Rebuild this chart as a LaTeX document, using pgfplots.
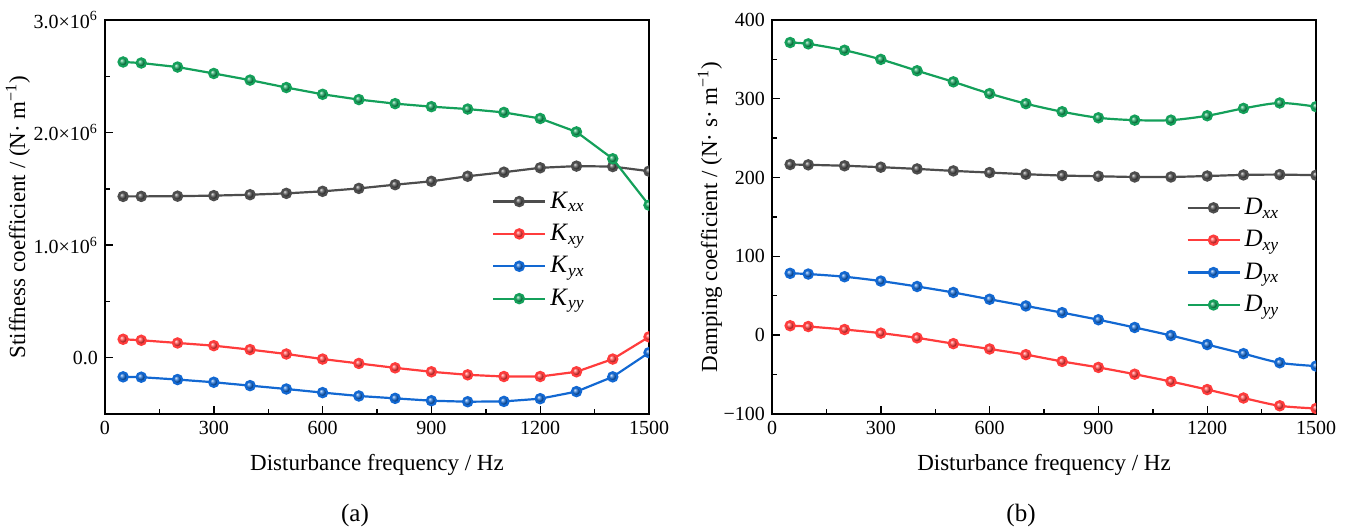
\documentclass[border=0pt]{standalone}
\usepackage{fontspec}
\setmainfont{Liberation Serif}
\usepackage{pgfplots}
\pgfplotsset{compat=1.18}
\definecolor{cG}{HTML}{4D4D4D}
\definecolor{cR}{HTML}{FF3C3C}
\definecolor{cB}{HTML}{1268D2}
\definecolor{cV}{HTML}{14A05A}
\pgfplotsset{
  common/.style={
    scale only axis, width=272pt, height=197pt,
    xmin=0, xmax=1500, xtick={0,300,...,1500}, minor x tick num=1,
    tick align=inside, xtick pos=bottom, ytick pos=left,
    axis line style={line width=0.8pt},
    major tick length=4pt, minor tick length=2.3pt,
    tick style={black, line width=0.7pt},
    /pgf/number format/assume math mode=true,
    /pgf/number format/1000 sep={},
    scaled y ticks=false,
    tick label style={font=\fontsize{10}{12}\selectfont},
    label style={font=\fontsize{11.5}{13}\selectfont},
    xlabel={Disturbance frequency / Hz},
    xlabel style={at={(axis description cs:0.5,-0.13)}, anchor=center},
    clip marker paths=true,
    legend cell align=left,
    legend style={draw=none, fill=none, anchor=north west, inner sep=0pt, row sep=2.5pt,
      font=\fontsize{12.5}{14}\selectfont},
    legend image code/.code={\draw[mark repeat=2, mark phase=2] plot coordinates {(0pt,0pt) (13pt,0pt) (26pt,0pt)};},
  },
  s/.style={color=#1, line width=1.1pt, mark=ball, mark size=2.3pt, mark options={ball color=#1}},
}
\begin{document}
\begin{tikzpicture}
\useasboundingbox (-52.5pt,-57.5pt) rectangle (621pt,207pt);
\begin{axis}[common, name=L, at={(0pt,0pt)}, anchor=south west,
  ymin=-0.5e6, ymax=3e6, ytick={0,1e6,2e6,3e6}, minor y tick num=1,
  yticklabels={0.0, 1.0×10\textsuperscript{6}, 2.0×10\textsuperscript{6}, 3.0×10\textsuperscript{6}},
  ylabel={Stiffness coefficient / (N· m\textsuperscript{−1})},
  ylabel style={at={(axis description cs:-0.16,0.5)}, anchor=center},
  legend style={at={(axis description cs:0.711,0.575)}},
]
\addplot[s=cG] coordinates {(50,1.433e6) (100,1.433e6) (200,1.435e6) (300,1.440e6) (400,1.448e6) (500,1.460e6) (600,1.478e6) (700,1.504e6) (800,1.537e6) (900,1.567e6) (1000,1.612e6) (1100,1.648e6) (1200,1.687e6) (1300,1.702e6) (1400,1.698e6) (1500,1.657e6)};
\addlegendentry{\textit{K}\textsubscript{\textit{xx}}}
\addplot[s=cR] coordinates {(50,0.164e6) (100,0.155e6) (200,0.131e6) (300,0.107e6) (400,0.072e6) (500,0.033e6) (600,-0.012e6) (700,-0.051e6) (800,-0.090e6) (900,-0.125e6) (1000,-0.152e6) (1100,-0.167e6) (1200,-0.167e6) (1300,-0.125e6) (1400,-0.012e6) (1500,0.185e6)};
\addlegendentry{\textit{K}\textsubscript{\textit{xy}}}
\addplot[s=cB] coordinates {(50,-0.170e6) (100,-0.173e6) (200,-0.194e6) (300,-0.218e6) (400,-0.248e6) (500,-0.278e6) (600,-0.310e6) (700,-0.340e6) (800,-0.361e6) (900,-0.382e6) (1000,-0.391e6) (1100,-0.388e6) (1200,-0.364e6) (1300,-0.301e6) (1400,-0.170e6) (1500,0.045e6)};
\addlegendentry{\textit{K}\textsubscript{\textit{yx}}}
\addplot[s=cV] coordinates {(50,2.627e6) (100,2.618e6) (200,2.582e6) (300,2.525e6) (400,2.466e6) (500,2.400e6) (600,2.340e6) (700,2.293e6) (800,2.257e6) (900,2.230e6) (1000,2.209e6) (1100,2.179e6) (1200,2.125e6) (1300,2.006e6) (1400,1.767e6) (1500,1.355e6)};
\addlegendentry{\textit{K}\textsubscript{\textit{yy}}}
\end{axis}
\begin{axis}[common, name=R, at={(333.5pt,0pt)}, anchor=south west,
  ymin=-100, ymax=400, ytick={-100,0,...,400}, minor y tick num=1,
  yticklabels={−100,0,100,200,300,400},
  ylabel={Damping coefficient / (N· s· m\textsuperscript{−1})},
  ylabel style={at={(axis description cs:-0.114,0.5)}, anchor=center},
  legend style={at={(axis description cs:0.761,0.559)}},
]
\addplot[s=cG, smooth] coordinates {(50,216.6) (100,216.2) (200,215.0) (300,213.2) (400,211.0) (500,208.5) (600,206.4) (700,204.3) (800,202.6) (900,201.7) (1000,200.8) (1100,200.8) (1200,202.0) (1300,203.4) (1400,203.8) (1500,203.0)};
\addlegendentry{\textit{D}\textsubscript{\textit{xx}}}
\addplot[s=cR, smooth] coordinates {(50,12.0) (100,11.0) (200,7.2) (300,2.6) (400,-3.4) (500,-10.7) (600,-17.5) (700,-24.7) (800,-33.3) (900,-40.9) (1000,-49.5) (1100,-58.8) (1200,-69.0) (1300,-79.7) (1400,-89.6) (1500,-93.0)};
\addlegendentry{\textit{D}\textsubscript{\textit{xy}}}
\addplot[s=cB, smooth] coordinates {(50,78.5) (100,77.6) (200,74.2) (300,68.7) (400,61.8) (500,54.2) (600,45.6) (700,37.1) (800,28.6) (900,19.6) (1000,9.8) (1100,-0.4) (1200,-11.9) (1300,-23.4) (1400,-35.0) (1500,-39.2)};
\addlegendentry{\textit{D}\textsubscript{\textit{yx}}}
\addplot[s=cV, smooth] coordinates {(50,371.4) (100,369.7) (200,361.6) (300,350.0) (400,335.6) (500,321.5) (600,306.6) (700,293.8) (800,283.6) (900,275.9) (1000,272.9) (1100,272.9) (1200,278.5) (1300,287.8) (1400,294.7) (1500,290.0)};
\addlegendentry{\textit{D}\textsubscript{\textit{yy}}}
\end{axis}
\node[font=\fontsize{12.5}{14}\selectfont] at ([xshift=-11pt,yshift=-50.5pt]L.south) {(a)};
\node[font=\fontsize{12.5}{14}\selectfont] at ([xshift=-11.5pt,yshift=-50.5pt]R.south) {(b)};
\end{tikzpicture}
\end{document}
